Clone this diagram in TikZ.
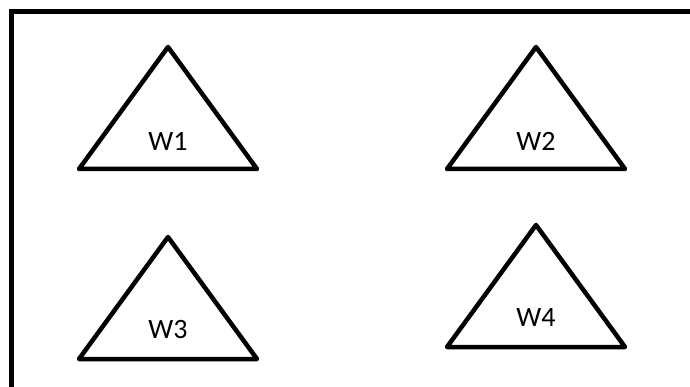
\documentclass[tikz,border=0pt]{standalone}
\usepackage{fontspec}
\setmainfont{Carlito}
\begin{document}
\begin{tikzpicture}[x=1pt,y=-1pt,
  tri/.style={draw=black,line width=4.5pt,line join=round,fill=white},
  lbl/.style={font=\fontsize{28}{32}\selectfont,inner sep=0pt}]
\useasboundingbox (0,0) rectangle (690,387);
\begin{scope}
\clip (0,0) rectangle (690,387);
\draw[line width=5pt] (11.5,12) rectangle (720,420);
\end{scope}
\newcommand\wtri[3]{%
  \draw[tri] (#1,#2) -- (#1+89,#3) -- (#1-89,#3) -- cycle;}
\wtri{168}{47}{169}
\wtri{536}{47}{169}
\wtri{168}{237}{359}
\wtri{536}{225}{347}
\node[lbl] (w1) at (168,141) {W1};
\node[lbl] (w2) at (536,141) {W2};
\node[lbl] (w3) at (168,330) {W3};
\node[lbl] (w4) at (536,318) {W4};
\end{tikzpicture}
\end{document}
